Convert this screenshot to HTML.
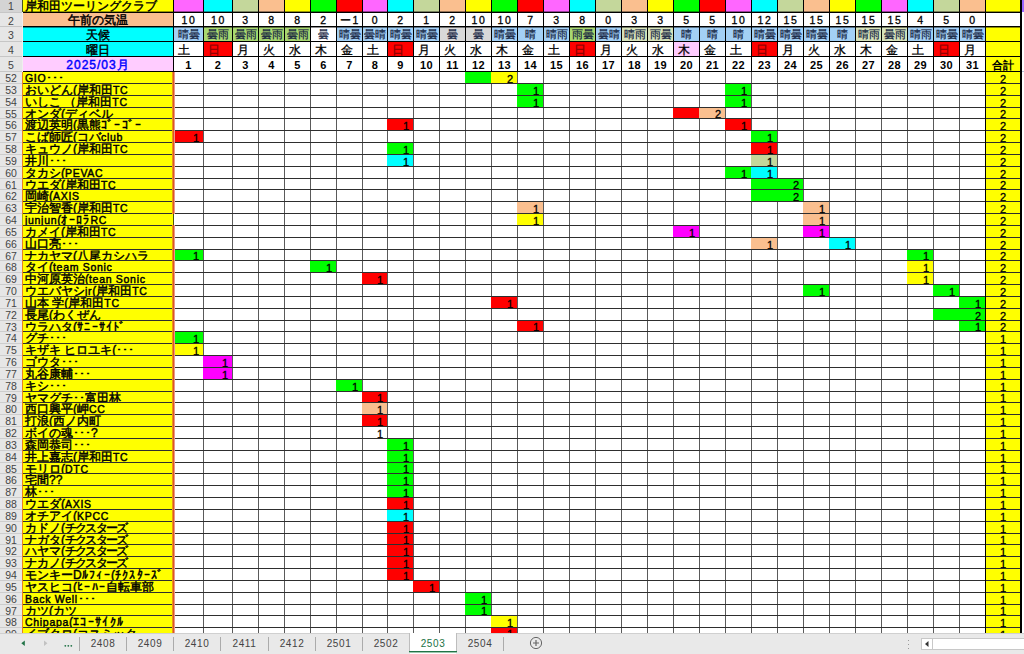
<!DOCTYPE html>
<html lang="ja"><head><meta charset="utf-8"><title>sheet</title><style>
*{margin:0;padding:0;box-sizing:border-box}
html,body{width:1024px;height:654px;overflow:hidden;background:#fff}
body{position:relative;font-family:"Liberation Sans",sans-serif;font-size:12px;color:#000}
div{position:absolute;overflow:hidden;white-space:nowrap}
.a{font-weight:normal;-webkit-text-stroke:.45px;font-size:12px;padding-left:2px}
.nm{line-height:13px}
.l{font-size:10.5px;letter-spacing:.7px}
.k{letter-spacing:1.3px}
.c{letter-spacing:-1.8px}
.h1{line-height:12px}
.hc{text-align:center;padding-left:0;line-height:16px}
.h2{line-height:14px}
.bl{color:#0000ff;letter-spacing:1px}
.t{text-align:center;font-size:11px;line-height:14px;-webkit-text-stroke:.3px #000}
.tp{font-size:10.5px;letter-spacing:1.6px;line-height:15px;padding-left:1px}
.we{font-size:11px;line-height:15px;color:#14233f;-webkit-text-stroke:.2px #14233f}
.wd{font-size:12px;line-height:16px;text-align:left;padding-left:4px}
.rd{color:#8a0000;-webkit-text-stroke:.3px #8a0000}
.dn{-webkit-text-stroke:0;font-weight:bold;font-size:11px;line-height:17px;letter-spacing:.5px}
.nu{text-align:right;padding-right:4px;font-size:11px;line-height:14px}
.tt{font-size:11px;line-height:14px}
.rh{text-align:center;font-size:10.5px;color:#444;line-height:13px}
.tab{text-align:center;font-size:10px;letter-spacing:.6px;color:#444;line-height:22px}
.act{color:#217346}
</style></head><body>
<div id="sheet" style="left:0;top:0;width:1024px;height:633px;background:#fff">
<div style="left:0px;top:0px;width:22px;height:633px;background:#e6e6e6;"></div>
<div style="left:0px;top:0px;width:22px;height:12px;background:#d4d4d4;"></div>
<div style="left:174px;top:0px;width:29px;height:12px;background:#ff66ff;"></div>
<div style="left:204px;top:0px;width:28px;height:12px;background:#00ffff;"></div>
<div style="left:233px;top:0px;width:25px;height:12px;background:#c4d79b;"></div>
<div style="left:259px;top:0px;width:25px;height:12px;background:#fabf8f;"></div>
<div style="left:285px;top:0px;width:25px;height:12px;background:#ffff00;"></div>
<div style="left:311px;top:0px;width:25px;height:12px;background:#00ff00;"></div>
<div style="left:337px;top:0px;width:25px;height:12px;background:#ff0000;"></div>
<div style="left:363px;top:0px;width:24px;height:12px;background:#ff66ff;"></div>
<div style="left:388px;top:0px;width:25px;height:12px;background:#00ffff;"></div>
<div style="left:414px;top:0px;width:25px;height:12px;background:#c4d79b;"></div>
<div style="left:440px;top:0px;width:25px;height:12px;background:#fabf8f;"></div>
<div style="left:466px;top:0px;width:25px;height:12px;background:#ffff00;"></div>
<div style="left:492px;top:0px;width:25px;height:12px;background:#00ff00;"></div>
<div style="left:518px;top:0px;width:25px;height:12px;background:#ff0000;"></div>
<div style="left:544px;top:0px;width:25px;height:12px;background:#ff66ff;"></div>
<div style="left:570px;top:0px;width:25px;height:12px;background:#00ffff;"></div>
<div style="left:596px;top:0px;width:25px;height:12px;background:#c4d79b;"></div>
<div style="left:622px;top:0px;width:25px;height:12px;background:#fabf8f;"></div>
<div style="left:648px;top:0px;width:25px;height:12px;background:#ffff00;"></div>
<div style="left:674px;top:0px;width:25px;height:12px;background:#00ff00;"></div>
<div style="left:700px;top:0px;width:25px;height:12px;background:#ff0000;"></div>
<div style="left:726px;top:0px;width:25px;height:12px;background:#ff66ff;"></div>
<div style="left:752px;top:0px;width:25px;height:12px;background:#00ffff;"></div>
<div style="left:778px;top:0px;width:25px;height:12px;background:#c4d79b;"></div>
<div style="left:804px;top:0px;width:25px;height:12px;background:#fabf8f;"></div>
<div style="left:830px;top:0px;width:25px;height:12px;background:#ffff00;"></div>
<div style="left:856px;top:0px;width:25px;height:12px;background:#00ff00;"></div>
<div style="left:882px;top:0px;width:25px;height:12px;background:#ff66ff;"></div>
<div style="left:908px;top:0px;width:25px;height:12px;background:#00ffff;"></div>
<div style="left:934px;top:0px;width:25px;height:12px;background:#c4d79b;"></div>
<div style="left:960px;top:0px;width:25px;height:12px;background:#fabf8f;"></div>
<div style="left:986px;top:0px;width:34px;height:12px;background:#ffff00;"></div>
<div style="left:1022px;top:0px;width:2px;height:12px;background:#9966ff;"></div>
<div class="a h1" style="left:23px;top:0px;width:150px;height:12px;background:#ffff00;">岸和田ツーリングクラブ</div>
<div class="a hc h2" style="left:23px;top:13px;width:150px;height:13px;background:#fabf8f;">午前の気温</div>
<div class="a hc" style="left:23px;top:27px;width:150px;height:14px;background:#00ffff;">天候</div>
<div class="a hc" style="left:23px;top:42px;width:150px;height:14px;background:#00ffff;">曜日</div>
<div class="a hc bl" style="left:23px;top:57px;width:150px;height:14px;background:#ffccff;">2025/03月</div>
<div class="t tp" style="left:174px;top:13px;width:29px;height:13px;">10</div>
<div class="t we" style="left:174px;top:27px;width:29px;height:14px;background:#a3d0f5;">晴曇</div>
<div class="t wd" style="left:174px;top:42px;width:29px;height:14px;">土</div>
<div class="t dn" style="left:174px;top:57px;width:29px;height:14px;">1</div>
<div class="t tp" style="left:204px;top:13px;width:28px;height:13px;">10</div>
<div class="t we" style="left:204px;top:27px;width:28px;height:14px;background:#a8d870;">曇雨</div>
<div class="t wd rd" style="left:204px;top:42px;width:28px;height:14px;background:#ff0000;">日</div>
<div class="t dn" style="left:204px;top:57px;width:28px;height:14px;">2</div>
<div class="t tp" style="left:233px;top:13px;width:25px;height:13px;">3</div>
<div class="t we" style="left:233px;top:27px;width:25px;height:14px;background:#a8d870;">曇雨</div>
<div class="t wd" style="left:233px;top:42px;width:25px;height:14px;">月</div>
<div class="t dn" style="left:233px;top:57px;width:25px;height:14px;">3</div>
<div class="t tp" style="left:259px;top:13px;width:25px;height:13px;">8</div>
<div class="t we" style="left:259px;top:27px;width:25px;height:14px;background:#a8d870;">曇雨</div>
<div class="t wd" style="left:259px;top:42px;width:25px;height:14px;">火</div>
<div class="t dn" style="left:259px;top:57px;width:25px;height:14px;">4</div>
<div class="t tp" style="left:285px;top:13px;width:25px;height:13px;">8</div>
<div class="t we" style="left:285px;top:27px;width:25px;height:14px;background:#a8d870;">曇雨</div>
<div class="t wd" style="left:285px;top:42px;width:25px;height:14px;">水</div>
<div class="t dn" style="left:285px;top:57px;width:25px;height:14px;">5</div>
<div class="t tp" style="left:311px;top:13px;width:25px;height:13px;">2</div>
<div class="t we" style="left:311px;top:27px;width:25px;height:14px;background:#ffffff;">曇</div>
<div class="t wd" style="left:311px;top:42px;width:25px;height:14px;">木</div>
<div class="t dn" style="left:311px;top:57px;width:25px;height:14px;">6</div>
<div class="t tp" style="left:337px;top:13px;width:25px;height:13px;">ー1</div>
<div class="t we" style="left:337px;top:27px;width:25px;height:14px;background:#a3d0f5;">晴曇</div>
<div class="t wd" style="left:337px;top:42px;width:25px;height:14px;">金</div>
<div class="t dn" style="left:337px;top:57px;width:25px;height:14px;">7</div>
<div class="t tp" style="left:363px;top:13px;width:24px;height:13px;">0</div>
<div class="t we" style="left:363px;top:27px;width:24px;height:14px;background:#a3d0f5;">曇晴</div>
<div class="t wd" style="left:363px;top:42px;width:24px;height:14px;">土</div>
<div class="t dn" style="left:363px;top:57px;width:24px;height:14px;">8</div>
<div class="t tp" style="left:388px;top:13px;width:25px;height:13px;">2</div>
<div class="t we" style="left:388px;top:27px;width:25px;height:14px;background:#a3d0f5;">晴曇</div>
<div class="t wd rd" style="left:388px;top:42px;width:25px;height:14px;background:#ff0000;">日</div>
<div class="t dn" style="left:388px;top:57px;width:25px;height:14px;">9</div>
<div class="t tp" style="left:414px;top:13px;width:25px;height:13px;">1</div>
<div class="t we" style="left:414px;top:27px;width:25px;height:14px;background:#a3d0f5;">晴曇</div>
<div class="t wd" style="left:414px;top:42px;width:25px;height:14px;">月</div>
<div class="t dn" style="left:414px;top:57px;width:25px;height:14px;">10</div>
<div class="t tp" style="left:440px;top:13px;width:25px;height:13px;">2</div>
<div class="t we" style="left:440px;top:27px;width:25px;height:14px;background:#d9d9d9;">曇</div>
<div class="t wd" style="left:440px;top:42px;width:25px;height:14px;">火</div>
<div class="t dn" style="left:440px;top:57px;width:25px;height:14px;">11</div>
<div class="t tp" style="left:466px;top:13px;width:25px;height:13px;">10</div>
<div class="t we" style="left:466px;top:27px;width:25px;height:14px;background:#d9d9d9;">曇</div>
<div class="t wd" style="left:466px;top:42px;width:25px;height:14px;">水</div>
<div class="t dn" style="left:466px;top:57px;width:25px;height:14px;">12</div>
<div class="t tp" style="left:492px;top:13px;width:25px;height:13px;">10</div>
<div class="t we" style="left:492px;top:27px;width:25px;height:14px;background:#a3d0f5;">晴曇</div>
<div class="t wd" style="left:492px;top:42px;width:25px;height:14px;">木</div>
<div class="t dn" style="left:492px;top:57px;width:25px;height:14px;">13</div>
<div class="t tp" style="left:518px;top:13px;width:25px;height:13px;">7</div>
<div class="t we" style="left:518px;top:27px;width:25px;height:14px;background:#a3d0f5;">晴</div>
<div class="t wd" style="left:518px;top:42px;width:25px;height:14px;">金</div>
<div class="t dn" style="left:518px;top:57px;width:25px;height:14px;">14</div>
<div class="t tp" style="left:544px;top:13px;width:25px;height:13px;">3</div>
<div class="t we" style="left:544px;top:27px;width:25px;height:14px;background:#a3d0f5;">晴雨</div>
<div class="t wd" style="left:544px;top:42px;width:25px;height:14px;">土</div>
<div class="t dn" style="left:544px;top:57px;width:25px;height:14px;">15</div>
<div class="t tp" style="left:570px;top:13px;width:25px;height:13px;">8</div>
<div class="t we" style="left:570px;top:27px;width:25px;height:14px;background:#a8d870;">雨曇</div>
<div class="t wd rd" style="left:570px;top:42px;width:25px;height:14px;background:#ff0000;">日</div>
<div class="t dn" style="left:570px;top:57px;width:25px;height:14px;">16</div>
<div class="t tp" style="left:596px;top:13px;width:25px;height:13px;">0</div>
<div class="t we" style="left:596px;top:27px;width:25px;height:14px;background:#a3d0f5;">曇晴</div>
<div class="t wd" style="left:596px;top:42px;width:25px;height:14px;">月</div>
<div class="t dn" style="left:596px;top:57px;width:25px;height:14px;">17</div>
<div class="t tp" style="left:622px;top:13px;width:25px;height:13px;">3</div>
<div class="t we" style="left:622px;top:27px;width:25px;height:14px;background:#d7e3bb;">晴雨</div>
<div class="t wd" style="left:622px;top:42px;width:25px;height:14px;">火</div>
<div class="t dn" style="left:622px;top:57px;width:25px;height:14px;">18</div>
<div class="t tp" style="left:648px;top:13px;width:25px;height:13px;">3</div>
<div class="t we" style="left:648px;top:27px;width:25px;height:14px;background:#d7e3bb;">雨曇</div>
<div class="t wd" style="left:648px;top:42px;width:25px;height:14px;">水</div>
<div class="t dn" style="left:648px;top:57px;width:25px;height:14px;">19</div>
<div class="t tp" style="left:674px;top:13px;width:25px;height:13px;">5</div>
<div class="t we" style="left:674px;top:27px;width:25px;height:14px;background:#a3d0f5;">晴</div>
<div class="t wd" style="left:674px;top:42px;width:25px;height:14px;background:#ffccff;">木</div>
<div class="t dn" style="left:674px;top:57px;width:25px;height:14px;">20</div>
<div class="t tp" style="left:700px;top:13px;width:25px;height:13px;">5</div>
<div class="t we" style="left:700px;top:27px;width:25px;height:14px;background:#a3d0f5;">晴</div>
<div class="t wd" style="left:700px;top:42px;width:25px;height:14px;">金</div>
<div class="t dn" style="left:700px;top:57px;width:25px;height:14px;">21</div>
<div class="t tp" style="left:726px;top:13px;width:25px;height:13px;">10</div>
<div class="t we" style="left:726px;top:27px;width:25px;height:14px;background:#a3d0f5;">晴</div>
<div class="t wd" style="left:726px;top:42px;width:25px;height:14px;">土</div>
<div class="t dn" style="left:726px;top:57px;width:25px;height:14px;">22</div>
<div class="t tp" style="left:752px;top:13px;width:25px;height:13px;">12</div>
<div class="t we" style="left:752px;top:27px;width:25px;height:14px;background:#a3d0f5;">晴曇</div>
<div class="t wd rd" style="left:752px;top:42px;width:25px;height:14px;background:#ff0000;">日</div>
<div class="t dn" style="left:752px;top:57px;width:25px;height:14px;">23</div>
<div class="t tp" style="left:778px;top:13px;width:25px;height:13px;">15</div>
<div class="t we" style="left:778px;top:27px;width:25px;height:14px;background:#a3d0f5;">晴曇</div>
<div class="t wd" style="left:778px;top:42px;width:25px;height:14px;">月</div>
<div class="t dn" style="left:778px;top:57px;width:25px;height:14px;">24</div>
<div class="t tp" style="left:804px;top:13px;width:25px;height:13px;">15</div>
<div class="t we" style="left:804px;top:27px;width:25px;height:14px;background:#a3d0f5;">晴曇</div>
<div class="t wd" style="left:804px;top:42px;width:25px;height:14px;">火</div>
<div class="t dn" style="left:804px;top:57px;width:25px;height:14px;">25</div>
<div class="t tp" style="left:830px;top:13px;width:25px;height:13px;">15</div>
<div class="t we" style="left:830px;top:27px;width:25px;height:14px;background:#a3d0f5;">晴</div>
<div class="t wd" style="left:830px;top:42px;width:25px;height:14px;">水</div>
<div class="t dn" style="left:830px;top:57px;width:25px;height:14px;">26</div>
<div class="t tp" style="left:856px;top:13px;width:25px;height:13px;">15</div>
<div class="t we" style="left:856px;top:27px;width:25px;height:14px;background:#d7e3bb;">晴雨</div>
<div class="t wd" style="left:856px;top:42px;width:25px;height:14px;">木</div>
<div class="t dn" style="left:856px;top:57px;width:25px;height:14px;">27</div>
<div class="t tp" style="left:882px;top:13px;width:25px;height:13px;">15</div>
<div class="t we" style="left:882px;top:27px;width:25px;height:14px;background:#d7e3bb;">曇雨</div>
<div class="t wd" style="left:882px;top:42px;width:25px;height:14px;">金</div>
<div class="t dn" style="left:882px;top:57px;width:25px;height:14px;">28</div>
<div class="t tp" style="left:908px;top:13px;width:25px;height:13px;">4</div>
<div class="t we" style="left:908px;top:27px;width:25px;height:14px;background:#a3d0f5;">晴雨</div>
<div class="t wd" style="left:908px;top:42px;width:25px;height:14px;">土</div>
<div class="t dn" style="left:908px;top:57px;width:25px;height:14px;">29</div>
<div class="t tp" style="left:934px;top:13px;width:25px;height:13px;">5</div>
<div class="t we" style="left:934px;top:27px;width:25px;height:14px;background:#a3d0f5;">晴曇</div>
<div class="t wd rd" style="left:934px;top:42px;width:25px;height:14px;background:#ff0000;">日</div>
<div class="t dn" style="left:934px;top:57px;width:25px;height:14px;">30</div>
<div class="t tp" style="left:960px;top:13px;width:25px;height:13px;">0</div>
<div class="t we" style="left:960px;top:27px;width:25px;height:14px;background:#a3d0f5;">晴曇</div>
<div class="t wd" style="left:960px;top:42px;width:25px;height:14px;">月</div>
<div class="t dn" style="left:960px;top:57px;width:25px;height:14px;">31</div>
<div style="left:986px;top:27px;width:34px;height:29px;background:#ffff00;"></div>
<div class="t dn" style="left:986px;top:57px;width:34px;height:14px;background:#ffff00;">合計</div>
<div class="a nm" style="left:23px;top:72px;width:150px;height:11px;background:#ffff00;"><span class="l">GIO</span>･･･</div>
<div class="t tt" style="left:986px;top:72px;width:34px;height:11px;background:#ffff00;">2</div>
<div class="a nm" style="left:23px;top:84px;width:150px;height:11px;background:#ffff00;">おいどん(岸和田<span class="l">TC</span></div>
<div class="t tt" style="left:986px;top:84px;width:34px;height:11px;background:#ffff00;">2</div>
<div class="a nm" style="left:23px;top:96px;width:150px;height:11px;background:#ffff00;">いしこ （岸和田<span class="l">TC</span></div>
<div class="t tt" style="left:986px;top:96px;width:34px;height:11px;background:#ffff00;">2</div>
<div class="a nm" style="left:23px;top:108px;width:150px;height:10px;background:#ffff00;">オンダ(ディベル</div>
<div class="t tt" style="left:986px;top:108px;width:34px;height:10px;background:#ffff00;line-height:13px;">2</div>
<div class="a nm" style="left:23px;top:119px;width:150px;height:11px;background:#ffff00;">渡辺英明(黒熊<span class="k">ｺﾞｰｺﾞｰ</span></div>
<div class="t tt" style="left:986px;top:119px;width:34px;height:11px;background:#ffff00;">2</div>
<div class="a nm" style="left:23px;top:131px;width:150px;height:11px;background:#ffff00;">こば師匠(コバ<span class="l">club</span></div>
<div class="t tt" style="left:986px;top:131px;width:34px;height:11px;background:#ffff00;">2</div>
<div class="a nm" style="left:23px;top:143px;width:150px;height:11px;background:#ffff00;">キュウノ(岸和田<span class="l">TC</span></div>
<div class="t tt" style="left:986px;top:143px;width:34px;height:11px;background:#ffff00;">2</div>
<div class="a nm" style="left:23px;top:155px;width:150px;height:11px;background:#ffff00;">井川･･･</div>
<div class="t tt" style="left:986px;top:155px;width:34px;height:11px;background:#ffff00;">2</div>
<div class="a nm" style="left:23px;top:167px;width:150px;height:11px;background:#ffff00;">タカシ(<span class="l">PEVAC</span></div>
<div class="t tt" style="left:986px;top:167px;width:34px;height:11px;background:#ffff00;">2</div>
<div class="a nm" style="left:23px;top:179px;width:150px;height:10px;background:#ffff00;">ウエダ(岸和田<span class="l">TC</span></div>
<div class="t tt" style="left:986px;top:179px;width:34px;height:10px;background:#ffff00;line-height:13px;">2</div>
<div class="a nm" style="left:23px;top:190px;width:150px;height:11px;background:#ffff00;">岡崎(<span class="l">AXIS</span></div>
<div class="t tt" style="left:986px;top:190px;width:34px;height:11px;background:#ffff00;">2</div>
<div class="a nm" style="left:23px;top:202px;width:150px;height:11px;background:#ffff00;">宇治智香(岸和田<span class="l">TC</span></div>
<div class="t tt" style="left:986px;top:202px;width:34px;height:11px;background:#ffff00;">2</div>
<div class="a nm" style="left:23px;top:214px;width:150px;height:11px;background:#ffff00;"><span class="l">junjun</span>(<span class="k">ｵｰﾛﾗ</span><span class="l">RC</span></div>
<div class="t tt" style="left:986px;top:214px;width:34px;height:11px;background:#ffff00;">2</div>
<div class="a nm" style="left:23px;top:226px;width:150px;height:11px;background:#ffff00;">カメイ(岸和田<span class="l">TC</span></div>
<div class="t tt" style="left:986px;top:226px;width:34px;height:11px;background:#ffff00;">2</div>
<div class="a nm" style="left:23px;top:238px;width:150px;height:11px;background:#ffff00;">山口亮･･･</div>
<div class="t tt" style="left:986px;top:238px;width:34px;height:11px;background:#ffff00;">2</div>
<div class="a nm" style="left:23px;top:250px;width:150px;height:10px;background:#ffff00;">ナカヤマ(八尾カシハラ</div>
<div class="t tt" style="left:986px;top:250px;width:34px;height:10px;background:#ffff00;line-height:13px;">2</div>
<div class="a nm" style="left:23px;top:261px;width:150px;height:11px;background:#ffff00;">タイ(<span class="l">team Sonic</span></div>
<div class="t tt" style="left:986px;top:261px;width:34px;height:11px;background:#ffff00;">2</div>
<div class="a nm" style="left:23px;top:273px;width:150px;height:11px;background:#ffff00;">中河原英治(<span class="l">tean Sonic</span></div>
<div class="t tt" style="left:986px;top:273px;width:34px;height:11px;background:#ffff00;">2</div>
<div class="a nm" style="left:23px;top:285px;width:150px;height:11px;background:#ffff00;">ウエバヤシ<span class="l">jr</span>(岸和田<span class="l">TC</span></div>
<div class="t tt" style="left:986px;top:285px;width:34px;height:11px;background:#ffff00;">2</div>
<div class="a nm" style="left:23px;top:297px;width:150px;height:11px;background:#ffff00;">山本 学(岸和田<span class="l">TC</span></div>
<div class="t tt" style="left:986px;top:297px;width:34px;height:11px;background:#ffff00;">2</div>
<div class="a nm" style="left:23px;top:309px;width:150px;height:11px;background:#ffff00;">長尾(わくぜん</div>
<div class="t tt" style="left:986px;top:309px;width:34px;height:11px;background:#ffff00;">2</div>
<div class="a nm" style="left:23px;top:321px;width:150px;height:10px;background:#ffff00;">ウラハタ(<span class="k">ｻﾆｰｻｲﾄﾞ</span></div>
<div class="t tt" style="left:986px;top:321px;width:34px;height:10px;background:#ffff00;line-height:13px;">2</div>
<div class="a nm" style="left:23px;top:332px;width:150px;height:11px;background:#ffff00;">グチ･･･</div>
<div class="t tt" style="left:986px;top:332px;width:34px;height:11px;background:#ffff00;">1</div>
<div class="a nm" style="left:23px;top:344px;width:150px;height:11px;background:#ffff00;">キザキ ヒロユキ(･･･</div>
<div class="t tt" style="left:986px;top:344px;width:34px;height:11px;background:#ffff00;">1</div>
<div class="a nm" style="left:23px;top:356px;width:150px;height:11px;background:#ffff00;">ゴウタ･･･</div>
<div class="t tt" style="left:986px;top:356px;width:34px;height:11px;background:#ffff00;">1</div>
<div class="a nm" style="left:23px;top:368px;width:150px;height:11px;background:#ffff00;">丸谷康輔･･･</div>
<div class="t tt" style="left:986px;top:368px;width:34px;height:11px;background:#ffff00;">1</div>
<div class="a nm" style="left:23px;top:380px;width:150px;height:11px;background:#ffff00;">キシ･･･</div>
<div class="t tt" style="left:986px;top:380px;width:34px;height:11px;background:#ffff00;">1</div>
<div class="a nm" style="left:23px;top:392px;width:150px;height:10px;background:#ffff00;">ヤマグチ･･富田林</div>
<div class="t tt" style="left:986px;top:392px;width:34px;height:10px;background:#ffff00;line-height:13px;">1</div>
<div class="a nm" style="left:23px;top:403px;width:150px;height:11px;background:#ffff00;">西口興平(岬<span class="l">CC</span></div>
<div class="t tt" style="left:986px;top:403px;width:34px;height:11px;background:#ffff00;">1</div>
<div class="a nm" style="left:23px;top:415px;width:150px;height:11px;background:#ffff00;">打浪(西ノ内町</div>
<div class="t tt" style="left:986px;top:415px;width:34px;height:11px;background:#ffff00;">1</div>
<div class="a nm" style="left:23px;top:427px;width:150px;height:11px;background:#ffff00;">ボイの魂･･･?</div>
<div class="t tt" style="left:986px;top:427px;width:34px;height:11px;background:#ffff00;">1</div>
<div class="a nm" style="left:23px;top:439px;width:150px;height:11px;background:#ffff00;">森岡恭司･･･</div>
<div class="t tt" style="left:986px;top:439px;width:34px;height:11px;background:#ffff00;">1</div>
<div class="a nm" style="left:23px;top:451px;width:150px;height:11px;background:#ffff00;">井上嘉志(岸和田<span class="l">TC</span></div>
<div class="t tt" style="left:986px;top:451px;width:34px;height:11px;background:#ffff00;">1</div>
<div class="a nm" style="left:23px;top:463px;width:150px;height:10px;background:#ffff00;">モリロ(<span class="l">DTC</span></div>
<div class="t tt" style="left:986px;top:463px;width:34px;height:10px;background:#ffff00;line-height:13px;">1</div>
<div class="a nm" style="left:23px;top:474px;width:150px;height:11px;background:#ffff00;">宅間??</div>
<div class="t tt" style="left:986px;top:474px;width:34px;height:11px;background:#ffff00;">1</div>
<div class="a nm" style="left:23px;top:486px;width:150px;height:11px;background:#ffff00;">林･･･</div>
<div class="t tt" style="left:986px;top:486px;width:34px;height:11px;background:#ffff00;">1</div>
<div class="a nm" style="left:23px;top:498px;width:150px;height:11px;background:#ffff00;">ウエダ(<span class="l">AXIS</span></div>
<div class="t tt" style="left:986px;top:498px;width:34px;height:11px;background:#ffff00;">1</div>
<div class="a nm" style="left:23px;top:510px;width:150px;height:11px;background:#ffff00;">オチアイ(<span class="l">KPCC</span></div>
<div class="t tt" style="left:986px;top:510px;width:34px;height:11px;background:#ffff00;">1</div>
<div class="a nm" style="left:23px;top:522px;width:150px;height:11px;background:#ffff00;">カドノ(<span class="c">チクスターズ</span></div>
<div class="t tt" style="left:986px;top:522px;width:34px;height:11px;background:#ffff00;">1</div>
<div class="a nm" style="left:23px;top:534px;width:150px;height:10px;background:#ffff00;">ナガタ(<span class="c">チクスターズ</span></div>
<div class="t tt" style="left:986px;top:534px;width:34px;height:10px;background:#ffff00;line-height:13px;">1</div>
<div class="a nm" style="left:23px;top:545px;width:150px;height:11px;background:#ffff00;">ハヤマ(<span class="c">チクスターズ</span></div>
<div class="t tt" style="left:986px;top:545px;width:34px;height:11px;background:#ffff00;">1</div>
<div class="a nm" style="left:23px;top:557px;width:150px;height:11px;background:#ffff00;">ナカノ(<span class="c">チクスターズ</span></div>
<div class="t tt" style="left:986px;top:557px;width:34px;height:11px;background:#ffff00;">1</div>
<div class="a nm" style="left:23px;top:569px;width:150px;height:11px;background:#ffff00;">モンキーD<span class="k">ﾙﾌｨｰ</span>(<span class="k">ﾁｸｽﾀｰｽﾞ</span></div>
<div class="t tt" style="left:986px;top:569px;width:34px;height:11px;background:#ffff00;">1</div>
<div class="a nm" style="left:23px;top:581px;width:150px;height:11px;background:#ffff00;">ヤスヒコ(<span class="k">ﾋｰﾊｰ</span>自転車部</div>
<div class="t tt" style="left:986px;top:581px;width:34px;height:11px;background:#ffff00;">1</div>
<div class="a nm" style="left:23px;top:593px;width:150px;height:11px;background:#ffff00;"><span class="l">Back Well</span>･･･</div>
<div class="t tt" style="left:986px;top:593px;width:34px;height:11px;background:#ffff00;">1</div>
<div class="a nm" style="left:23px;top:605px;width:150px;height:10px;background:#ffff00;">カツ(カツ</div>
<div class="t tt" style="left:986px;top:605px;width:34px;height:10px;background:#ffff00;line-height:13px;">1</div>
<div class="a nm" style="left:23px;top:616px;width:150px;height:11px;background:#ffff00;"><span class="l">Chipapa</span>(<span class="k">ｴｺｰｻｲｸﾙ</span></div>
<div class="t tt" style="left:986px;top:616px;width:34px;height:11px;background:#ffff00;">1</div>
<div class="a nm" style="left:23px;top:628px;width:150px;height:11px;background:#ffff00;">イブクロ(コスミック</div>
<div class="t tt" style="left:986px;top:628px;width:34px;height:11px;background:#ffff00;">1</div>
<div style="left:173px;top:0px;width:1px;height:72px;background:#000;"></div>
<div style="left:203px;top:0px;width:1px;height:72px;background:#000;"></div>
<div style="left:203px;top:72px;width:1px;height:561px;background:#5a5a5a;"></div>
<div style="left:232px;top:0px;width:1px;height:72px;background:#000;"></div>
<div style="left:232px;top:72px;width:1px;height:561px;background:#5a5a5a;"></div>
<div style="left:258px;top:0px;width:1px;height:72px;background:#000;"></div>
<div style="left:258px;top:72px;width:1px;height:561px;background:#5a5a5a;"></div>
<div style="left:284px;top:0px;width:1px;height:72px;background:#000;"></div>
<div style="left:284px;top:72px;width:1px;height:561px;background:#5a5a5a;"></div>
<div style="left:310px;top:0px;width:1px;height:72px;background:#000;"></div>
<div style="left:310px;top:72px;width:1px;height:561px;background:#5a5a5a;"></div>
<div style="left:336px;top:0px;width:1px;height:72px;background:#000;"></div>
<div style="left:336px;top:72px;width:1px;height:561px;background:#5a5a5a;"></div>
<div style="left:362px;top:0px;width:1px;height:72px;background:#000;"></div>
<div style="left:362px;top:72px;width:1px;height:561px;background:#5a5a5a;"></div>
<div style="left:387px;top:0px;width:1px;height:72px;background:#000;"></div>
<div style="left:387px;top:72px;width:1px;height:561px;background:#5a5a5a;"></div>
<div style="left:413px;top:0px;width:1px;height:72px;background:#000;"></div>
<div style="left:413px;top:72px;width:1px;height:561px;background:#5a5a5a;"></div>
<div style="left:439px;top:0px;width:1px;height:72px;background:#000;"></div>
<div style="left:439px;top:72px;width:1px;height:561px;background:#5a5a5a;"></div>
<div style="left:465px;top:0px;width:1px;height:72px;background:#000;"></div>
<div style="left:465px;top:72px;width:1px;height:561px;background:#5a5a5a;"></div>
<div style="left:491px;top:0px;width:1px;height:72px;background:#000;"></div>
<div style="left:491px;top:72px;width:1px;height:561px;background:#5a5a5a;"></div>
<div style="left:517px;top:0px;width:1px;height:72px;background:#000;"></div>
<div style="left:517px;top:72px;width:1px;height:561px;background:#5a5a5a;"></div>
<div style="left:543px;top:0px;width:1px;height:72px;background:#000;"></div>
<div style="left:543px;top:72px;width:1px;height:561px;background:#5a5a5a;"></div>
<div style="left:569px;top:0px;width:1px;height:72px;background:#000;"></div>
<div style="left:569px;top:72px;width:1px;height:561px;background:#5a5a5a;"></div>
<div style="left:595px;top:0px;width:1px;height:72px;background:#000;"></div>
<div style="left:595px;top:72px;width:1px;height:561px;background:#5a5a5a;"></div>
<div style="left:621px;top:0px;width:1px;height:72px;background:#000;"></div>
<div style="left:621px;top:72px;width:1px;height:561px;background:#5a5a5a;"></div>
<div style="left:647px;top:0px;width:1px;height:72px;background:#000;"></div>
<div style="left:647px;top:72px;width:1px;height:561px;background:#5a5a5a;"></div>
<div style="left:673px;top:0px;width:1px;height:72px;background:#000;"></div>
<div style="left:673px;top:72px;width:1px;height:561px;background:#5a5a5a;"></div>
<div style="left:699px;top:0px;width:1px;height:72px;background:#000;"></div>
<div style="left:699px;top:72px;width:1px;height:561px;background:#5a5a5a;"></div>
<div style="left:725px;top:0px;width:1px;height:72px;background:#000;"></div>
<div style="left:725px;top:72px;width:1px;height:561px;background:#5a5a5a;"></div>
<div style="left:751px;top:0px;width:1px;height:72px;background:#000;"></div>
<div style="left:751px;top:72px;width:1px;height:561px;background:#5a5a5a;"></div>
<div style="left:777px;top:0px;width:1px;height:72px;background:#000;"></div>
<div style="left:777px;top:72px;width:1px;height:561px;background:#5a5a5a;"></div>
<div style="left:803px;top:0px;width:1px;height:72px;background:#000;"></div>
<div style="left:803px;top:72px;width:1px;height:561px;background:#5a5a5a;"></div>
<div style="left:829px;top:0px;width:1px;height:72px;background:#000;"></div>
<div style="left:829px;top:72px;width:1px;height:561px;background:#5a5a5a;"></div>
<div style="left:855px;top:0px;width:1px;height:72px;background:#000;"></div>
<div style="left:855px;top:72px;width:1px;height:561px;background:#5a5a5a;"></div>
<div style="left:881px;top:0px;width:1px;height:72px;background:#000;"></div>
<div style="left:881px;top:72px;width:1px;height:561px;background:#5a5a5a;"></div>
<div style="left:907px;top:0px;width:1px;height:72px;background:#000;"></div>
<div style="left:907px;top:72px;width:1px;height:561px;background:#5a5a5a;"></div>
<div style="left:933px;top:0px;width:1px;height:72px;background:#000;"></div>
<div style="left:933px;top:72px;width:1px;height:561px;background:#5a5a5a;"></div>
<div style="left:959px;top:0px;width:1px;height:72px;background:#000;"></div>
<div style="left:959px;top:72px;width:1px;height:561px;background:#5a5a5a;"></div>
<div style="left:985px;top:0px;width:1px;height:72px;background:#000;"></div>
<div style="left:985px;top:72px;width:1px;height:561px;background:#5a5a5a;"></div>
<div class="t nu" style="left:465px;top:72px;width:26px;height:11px;background:#00ff00;"></div>
<div class="t nu" style="left:491px;top:72px;width:26px;height:11px;background:#ffff00;">2</div>
<div class="t nu" style="left:517px;top:84px;width:26px;height:11px;background:#00ff00;">1</div>
<div class="t nu" style="left:725px;top:84px;width:26px;height:11px;background:#00ff00;">1</div>
<div class="t nu" style="left:517px;top:96px;width:26px;height:11px;background:#00ff00;">1</div>
<div class="t nu" style="left:725px;top:96px;width:26px;height:11px;background:#00ff00;">1</div>
<div class="t nu" style="left:673px;top:108px;width:26px;height:10px;background:#ff0000;line-height:13px;"></div>
<div class="t nu" style="left:699px;top:108px;width:26px;height:10px;background:#fabf8f;line-height:13px;">2</div>
<div class="t nu" style="left:387px;top:119px;width:26px;height:11px;background:#ff0000;">1</div>
<div class="t nu" style="left:725px;top:119px;width:26px;height:11px;background:#ff0000;">1</div>
<div class="t nu" style="left:174px;top:131px;width:29px;height:11px;background:#ff0000;">1</div>
<div class="t nu" style="left:751px;top:131px;width:26px;height:11px;background:#00ff00;">1</div>
<div class="t nu" style="left:387px;top:143px;width:26px;height:11px;background:#00ff00;">1</div>
<div class="t nu" style="left:751px;top:143px;width:26px;height:11px;background:#ff0000;">1</div>
<div class="t nu" style="left:387px;top:155px;width:26px;height:11px;background:#00ffff;">1</div>
<div class="t nu" style="left:751px;top:155px;width:26px;height:11px;background:#c4d79b;">1</div>
<div class="t nu" style="left:725px;top:167px;width:26px;height:11px;background:#00ff00;">1</div>
<div class="t nu" style="left:751px;top:167px;width:26px;height:11px;background:#00ffff;">1</div>
<div class="t nu" style="left:751px;top:179px;width:26px;height:10px;background:#00ff00;line-height:13px;"></div>
<div class="t nu" style="left:777px;top:179px;width:26px;height:10px;background:#00ff00;line-height:13px;">2</div>
<div class="t nu" style="left:751px;top:190px;width:26px;height:11px;background:#00ff00;"></div>
<div class="t nu" style="left:777px;top:190px;width:26px;height:11px;background:#00ff00;">2</div>
<div class="t nu" style="left:517px;top:202px;width:26px;height:11px;background:#fabf8f;">1</div>
<div class="t nu" style="left:803px;top:202px;width:26px;height:11px;background:#fabf8f;">1</div>
<div class="t nu" style="left:517px;top:214px;width:26px;height:11px;background:#ffff00;">1</div>
<div class="t nu" style="left:803px;top:214px;width:26px;height:11px;background:#fabf8f;">1</div>
<div class="t nu" style="left:673px;top:226px;width:26px;height:11px;background:#ff00ff;">1</div>
<div class="t nu" style="left:803px;top:226px;width:26px;height:11px;background:#ff00ff;">1</div>
<div class="t nu" style="left:751px;top:238px;width:26px;height:11px;background:#fabf8f;">1</div>
<div class="t nu" style="left:829px;top:238px;width:26px;height:11px;background:#00ffff;">1</div>
<div class="t nu" style="left:174px;top:250px;width:29px;height:10px;background:#00ff00;line-height:13px;">1</div>
<div class="t nu" style="left:907px;top:250px;width:26px;height:10px;background:#00ff00;line-height:13px;">1</div>
<div class="t nu" style="left:310px;top:261px;width:26px;height:11px;background:#00ff00;">1</div>
<div class="t nu" style="left:907px;top:261px;width:26px;height:11px;background:#ffff00;">1</div>
<div class="t nu" style="left:362px;top:273px;width:25px;height:11px;background:#ff0000;">1</div>
<div class="t nu" style="left:907px;top:273px;width:26px;height:11px;background:#ffff00;">1</div>
<div class="t nu" style="left:803px;top:285px;width:26px;height:11px;background:#00ff00;">1</div>
<div class="t nu" style="left:933px;top:285px;width:26px;height:11px;background:#00ff00;">1</div>
<div class="t nu" style="left:491px;top:297px;width:26px;height:11px;background:#ff0000;">1</div>
<div class="t nu" style="left:959px;top:297px;width:26px;height:11px;background:#00ff00;">1</div>
<div class="t nu" style="left:933px;top:309px;width:26px;height:11px;background:#00ff00;"></div>
<div class="t nu" style="left:959px;top:309px;width:26px;height:11px;background:#00ff00;">2</div>
<div class="t nu" style="left:517px;top:321px;width:26px;height:10px;background:#ff0000;line-height:13px;">1</div>
<div class="t nu" style="left:959px;top:321px;width:26px;height:10px;background:#00ff00;line-height:13px;">1</div>
<div class="t nu" style="left:174px;top:332px;width:29px;height:11px;background:#00ff00;">1</div>
<div class="t nu" style="left:174px;top:344px;width:29px;height:11px;background:#ffff00;">1</div>
<div class="t nu" style="left:203px;top:356px;width:29px;height:11px;background:#ff00ff;">1</div>
<div class="t nu" style="left:203px;top:368px;width:29px;height:11px;background:#ff00ff;">1</div>
<div class="t nu" style="left:336px;top:380px;width:26px;height:11px;background:#00ff00;">1</div>
<div class="t nu" style="left:362px;top:392px;width:25px;height:10px;background:#ff0000;line-height:13px;">1</div>
<div class="t nu" style="left:362px;top:403px;width:25px;height:11px;background:#fabf8f;">1</div>
<div class="t nu" style="left:362px;top:415px;width:25px;height:11px;background:#ff0000;">1</div>
<div class="t nu" style="left:362px;top:427px;width:25px;height:11px;">1</div>
<div class="t nu" style="left:387px;top:439px;width:26px;height:11px;background:#00ff00;">1</div>
<div class="t nu" style="left:387px;top:451px;width:26px;height:11px;background:#00ff00;">1</div>
<div class="t nu" style="left:387px;top:463px;width:26px;height:10px;background:#00ff00;line-height:13px;">1</div>
<div class="t nu" style="left:387px;top:474px;width:26px;height:11px;background:#00ff00;">1</div>
<div class="t nu" style="left:387px;top:486px;width:26px;height:11px;background:#00ff00;">1</div>
<div class="t nu" style="left:387px;top:498px;width:26px;height:11px;background:#ff0000;">1</div>
<div class="t nu" style="left:387px;top:510px;width:26px;height:11px;background:#00ffff;">1</div>
<div class="t nu" style="left:387px;top:522px;width:26px;height:11px;background:#ff0000;">1</div>
<div class="t nu" style="left:387px;top:534px;width:26px;height:10px;background:#ff0000;line-height:13px;">1</div>
<div class="t nu" style="left:387px;top:545px;width:26px;height:11px;background:#ff0000;">1</div>
<div class="t nu" style="left:387px;top:557px;width:26px;height:11px;background:#ff0000;">1</div>
<div class="t nu" style="left:387px;top:569px;width:26px;height:11px;background:#ff0000;">1</div>
<div class="t nu" style="left:413px;top:581px;width:26px;height:11px;background:#ff0000;">1</div>
<div class="t nu" style="left:465px;top:593px;width:26px;height:11px;background:#00ff00;">1</div>
<div class="t nu" style="left:465px;top:605px;width:26px;height:10px;background:#00ff00;line-height:13px;">1</div>
<div class="t nu" style="left:491px;top:616px;width:26px;height:11px;background:#ffff00;">1</div>
<div class="t nu" style="left:491px;top:628px;width:26px;height:5px;background:#ff0000;line-height:13px;">1</div>
<div style="left:22px;top:12px;width:999px;height:1px;background:#000;"></div>
<div style="left:22px;top:26px;width:999px;height:1px;background:#000;"></div>
<div style="left:22px;top:41px;width:999px;height:1px;background:#000;"></div>
<div style="left:22px;top:56px;width:999px;height:1px;background:#000;"></div>
<div style="left:22px;top:71px;width:999px;height:1px;background:#000;"></div>
<div style="left:1022px;top:71px;width:2px;height:1px;background:#b8c0d8;"></div>
<div style="left:23px;top:11px;width:998px;height:1px;background:rgba(0,0,0,.4);"></div>
<div style="left:23px;top:27px;width:998px;height:1px;background:rgba(0,0,0,.45);"></div>
<div style="left:22px;top:83px;width:999px;height:1px;background:#2e2e2e;"></div>
<div style="left:22px;top:95px;width:999px;height:1px;background:#2e2e2e;"></div>
<div style="left:22px;top:107px;width:999px;height:1px;background:#2e2e2e;"></div>
<div style="left:22px;top:118px;width:999px;height:1px;background:#2e2e2e;"></div>
<div style="left:22px;top:130px;width:999px;height:1px;background:#2e2e2e;"></div>
<div style="left:22px;top:142px;width:999px;height:1px;background:#2e2e2e;"></div>
<div style="left:22px;top:154px;width:999px;height:1px;background:#2e2e2e;"></div>
<div style="left:22px;top:166px;width:999px;height:1px;background:#2e2e2e;"></div>
<div style="left:22px;top:178px;width:999px;height:1px;background:#2e2e2e;"></div>
<div style="left:22px;top:189px;width:999px;height:1px;background:#2e2e2e;"></div>
<div style="left:22px;top:201px;width:999px;height:1px;background:#2e2e2e;"></div>
<div style="left:22px;top:213px;width:999px;height:1px;background:#2e2e2e;"></div>
<div style="left:22px;top:225px;width:999px;height:1px;background:#2e2e2e;"></div>
<div style="left:22px;top:237px;width:999px;height:1px;background:#2e2e2e;"></div>
<div style="left:22px;top:249px;width:999px;height:1px;background:#2e2e2e;"></div>
<div style="left:22px;top:260px;width:999px;height:1px;background:#2e2e2e;"></div>
<div style="left:22px;top:272px;width:999px;height:1px;background:#2e2e2e;"></div>
<div style="left:22px;top:284px;width:999px;height:1px;background:#2e2e2e;"></div>
<div style="left:22px;top:296px;width:999px;height:1px;background:#2e2e2e;"></div>
<div style="left:22px;top:308px;width:999px;height:1px;background:#2e2e2e;"></div>
<div style="left:22px;top:320px;width:999px;height:1px;background:#2e2e2e;"></div>
<div style="left:22px;top:331px;width:999px;height:1px;background:#2e2e2e;"></div>
<div style="left:22px;top:343px;width:999px;height:1px;background:#2e2e2e;"></div>
<div style="left:22px;top:355px;width:999px;height:1px;background:#2e2e2e;"></div>
<div style="left:22px;top:367px;width:999px;height:1px;background:#2e2e2e;"></div>
<div style="left:22px;top:379px;width:999px;height:1px;background:#2e2e2e;"></div>
<div style="left:22px;top:391px;width:999px;height:1px;background:#2e2e2e;"></div>
<div style="left:22px;top:402px;width:999px;height:1px;background:#2e2e2e;"></div>
<div style="left:22px;top:414px;width:999px;height:1px;background:#2e2e2e;"></div>
<div style="left:22px;top:426px;width:999px;height:1px;background:#2e2e2e;"></div>
<div style="left:22px;top:438px;width:999px;height:1px;background:#2e2e2e;"></div>
<div style="left:22px;top:450px;width:999px;height:1px;background:#2e2e2e;"></div>
<div style="left:22px;top:462px;width:999px;height:1px;background:#2e2e2e;"></div>
<div style="left:22px;top:473px;width:999px;height:1px;background:#2e2e2e;"></div>
<div style="left:22px;top:485px;width:999px;height:1px;background:#2e2e2e;"></div>
<div style="left:22px;top:497px;width:999px;height:1px;background:#2e2e2e;"></div>
<div style="left:22px;top:509px;width:999px;height:1px;background:#2e2e2e;"></div>
<div style="left:22px;top:521px;width:999px;height:1px;background:#2e2e2e;"></div>
<div style="left:22px;top:533px;width:999px;height:1px;background:#2e2e2e;"></div>
<div style="left:22px;top:544px;width:999px;height:1px;background:#2e2e2e;"></div>
<div style="left:22px;top:556px;width:999px;height:1px;background:#2e2e2e;"></div>
<div style="left:22px;top:568px;width:999px;height:1px;background:#2e2e2e;"></div>
<div style="left:22px;top:580px;width:999px;height:1px;background:#2e2e2e;"></div>
<div style="left:22px;top:592px;width:999px;height:1px;background:#2e2e2e;"></div>
<div style="left:22px;top:604px;width:999px;height:1px;background:#2e2e2e;"></div>
<div style="left:22px;top:615px;width:999px;height:1px;background:#2e2e2e;"></div>
<div style="left:22px;top:627px;width:999px;height:1px;background:#2e2e2e;"></div>
<div style="left:985px;top:0px;width:1px;height:633px;background:#000;"></div>
<div style="left:1020px;top:0px;width:2px;height:633px;background:#000;"></div>
<div style="left:22px;top:0px;width:1px;height:12px;background:#46561c;"></div>
<div style="left:22px;top:12px;width:1px;height:60px;background:#efefef;"></div>
<div style="left:22px;top:72px;width:1px;height:561px;background:#e8821c;"></div>
<div style="left:172px;top:72px;width:1px;height:561px;background:#ec9618;"></div>
<div style="left:173px;top:72px;width:1px;height:561px;background:#dc5626;"></div>
<div style="left:174px;top:72px;width:1px;height:561px;background:#eb9a88;"></div>
<div style="left:22px;top:214px;width:1px;height:11px;background:#b0b000;"></div>
<div style="left:172px;top:214px;width:1px;height:11px;background:#ffff00;"></div>
<div style="left:173px;top:214px;width:1px;height:11px;background:#4a5210;"></div>
<div style="left:174px;top:214px;width:1px;height:11px;background:#fff;"></div>
<div class="rh" style="left:0px;top:0px;width:22px;height:12px;line-height:12px;">1</div>
<div style="left:0px;top:12px;width:22px;height:1px;background:#c6c6c6;"></div>
<div class="rh" style="left:0px;top:13px;width:22px;height:13px;line-height:17px;">2</div>
<div style="left:0px;top:26px;width:22px;height:1px;background:#c6c6c6;"></div>
<div class="rh" style="left:0px;top:27px;width:22px;height:14px;line-height:17px;">3</div>
<div style="left:0px;top:41px;width:22px;height:1px;background:#c6c6c6;"></div>
<div class="rh" style="left:0px;top:42px;width:22px;height:14px;line-height:17px;">4</div>
<div style="left:0px;top:56px;width:22px;height:1px;background:#c6c6c6;"></div>
<div class="rh" style="left:0px;top:57px;width:22px;height:14px;line-height:17px;">5</div>
<div style="left:0px;top:71px;width:22px;height:1px;background:#c6c6c6;"></div>
<div class="rh" style="left:0px;top:72px;width:22px;height:11px;">52</div>
<div class="rh" style="left:0px;top:84px;width:22px;height:11px;">53</div>
<div style="left:0px;top:83px;width:22px;height:1px;background:#cdcdcd;"></div>
<div class="rh" style="left:0px;top:96px;width:22px;height:11px;">54</div>
<div style="left:0px;top:95px;width:22px;height:1px;background:#cdcdcd;"></div>
<div class="rh" style="left:0px;top:108px;width:22px;height:10px;">55</div>
<div style="left:0px;top:107px;width:22px;height:1px;background:#cdcdcd;"></div>
<div class="rh" style="left:0px;top:119px;width:22px;height:11px;">56</div>
<div style="left:0px;top:118px;width:22px;height:1px;background:#cdcdcd;"></div>
<div class="rh" style="left:0px;top:131px;width:22px;height:11px;">57</div>
<div style="left:0px;top:130px;width:22px;height:1px;background:#cdcdcd;"></div>
<div class="rh" style="left:0px;top:143px;width:22px;height:11px;">58</div>
<div style="left:0px;top:142px;width:22px;height:1px;background:#cdcdcd;"></div>
<div class="rh" style="left:0px;top:155px;width:22px;height:11px;">59</div>
<div style="left:0px;top:154px;width:22px;height:1px;background:#cdcdcd;"></div>
<div class="rh" style="left:0px;top:167px;width:22px;height:11px;">60</div>
<div style="left:0px;top:166px;width:22px;height:1px;background:#cdcdcd;"></div>
<div class="rh" style="left:0px;top:179px;width:22px;height:10px;">61</div>
<div style="left:0px;top:178px;width:22px;height:1px;background:#cdcdcd;"></div>
<div class="rh" style="left:0px;top:190px;width:22px;height:11px;">62</div>
<div style="left:0px;top:189px;width:22px;height:1px;background:#cdcdcd;"></div>
<div class="rh" style="left:0px;top:202px;width:22px;height:11px;">63</div>
<div style="left:0px;top:201px;width:22px;height:1px;background:#cdcdcd;"></div>
<div class="rh" style="left:0px;top:214px;width:22px;height:11px;">64</div>
<div style="left:0px;top:213px;width:22px;height:1px;background:#cdcdcd;"></div>
<div class="rh" style="left:0px;top:226px;width:22px;height:11px;">65</div>
<div style="left:0px;top:225px;width:22px;height:1px;background:#cdcdcd;"></div>
<div class="rh" style="left:0px;top:238px;width:22px;height:11px;">66</div>
<div style="left:0px;top:237px;width:22px;height:1px;background:#cdcdcd;"></div>
<div class="rh" style="left:0px;top:250px;width:22px;height:10px;">67</div>
<div style="left:0px;top:249px;width:22px;height:1px;background:#cdcdcd;"></div>
<div class="rh" style="left:0px;top:261px;width:22px;height:11px;">68</div>
<div style="left:0px;top:260px;width:22px;height:1px;background:#cdcdcd;"></div>
<div class="rh" style="left:0px;top:273px;width:22px;height:11px;">69</div>
<div style="left:0px;top:272px;width:22px;height:1px;background:#cdcdcd;"></div>
<div class="rh" style="left:0px;top:285px;width:22px;height:11px;">70</div>
<div style="left:0px;top:284px;width:22px;height:1px;background:#cdcdcd;"></div>
<div class="rh" style="left:0px;top:297px;width:22px;height:11px;">71</div>
<div style="left:0px;top:296px;width:22px;height:1px;background:#cdcdcd;"></div>
<div class="rh" style="left:0px;top:309px;width:22px;height:11px;">72</div>
<div style="left:0px;top:308px;width:22px;height:1px;background:#cdcdcd;"></div>
<div class="rh" style="left:0px;top:321px;width:22px;height:10px;">73</div>
<div style="left:0px;top:320px;width:22px;height:1px;background:#cdcdcd;"></div>
<div class="rh" style="left:0px;top:332px;width:22px;height:11px;">74</div>
<div style="left:0px;top:331px;width:22px;height:1px;background:#cdcdcd;"></div>
<div class="rh" style="left:0px;top:344px;width:22px;height:11px;">75</div>
<div style="left:0px;top:343px;width:22px;height:1px;background:#cdcdcd;"></div>
<div class="rh" style="left:0px;top:356px;width:22px;height:11px;">76</div>
<div style="left:0px;top:355px;width:22px;height:1px;background:#cdcdcd;"></div>
<div class="rh" style="left:0px;top:368px;width:22px;height:11px;">77</div>
<div style="left:0px;top:367px;width:22px;height:1px;background:#cdcdcd;"></div>
<div class="rh" style="left:0px;top:380px;width:22px;height:11px;">78</div>
<div style="left:0px;top:379px;width:22px;height:1px;background:#cdcdcd;"></div>
<div class="rh" style="left:0px;top:392px;width:22px;height:10px;">79</div>
<div style="left:0px;top:391px;width:22px;height:1px;background:#cdcdcd;"></div>
<div class="rh" style="left:0px;top:403px;width:22px;height:11px;">80</div>
<div style="left:0px;top:402px;width:22px;height:1px;background:#cdcdcd;"></div>
<div class="rh" style="left:0px;top:415px;width:22px;height:11px;">81</div>
<div style="left:0px;top:414px;width:22px;height:1px;background:#cdcdcd;"></div>
<div class="rh" style="left:0px;top:427px;width:22px;height:11px;">82</div>
<div style="left:0px;top:426px;width:22px;height:1px;background:#cdcdcd;"></div>
<div class="rh" style="left:0px;top:439px;width:22px;height:11px;">83</div>
<div style="left:0px;top:438px;width:22px;height:1px;background:#cdcdcd;"></div>
<div class="rh" style="left:0px;top:451px;width:22px;height:11px;">84</div>
<div style="left:0px;top:450px;width:22px;height:1px;background:#cdcdcd;"></div>
<div class="rh" style="left:0px;top:463px;width:22px;height:10px;">85</div>
<div style="left:0px;top:462px;width:22px;height:1px;background:#cdcdcd;"></div>
<div class="rh" style="left:0px;top:474px;width:22px;height:11px;">86</div>
<div style="left:0px;top:473px;width:22px;height:1px;background:#cdcdcd;"></div>
<div class="rh" style="left:0px;top:486px;width:22px;height:11px;">87</div>
<div style="left:0px;top:485px;width:22px;height:1px;background:#cdcdcd;"></div>
<div class="rh" style="left:0px;top:498px;width:22px;height:11px;">88</div>
<div style="left:0px;top:497px;width:22px;height:1px;background:#cdcdcd;"></div>
<div class="rh" style="left:0px;top:510px;width:22px;height:11px;">89</div>
<div style="left:0px;top:509px;width:22px;height:1px;background:#cdcdcd;"></div>
<div class="rh" style="left:0px;top:522px;width:22px;height:11px;">90</div>
<div style="left:0px;top:521px;width:22px;height:1px;background:#cdcdcd;"></div>
<div class="rh" style="left:0px;top:534px;width:22px;height:10px;">91</div>
<div style="left:0px;top:533px;width:22px;height:1px;background:#cdcdcd;"></div>
<div class="rh" style="left:0px;top:545px;width:22px;height:11px;">92</div>
<div style="left:0px;top:544px;width:22px;height:1px;background:#cdcdcd;"></div>
<div class="rh" style="left:0px;top:557px;width:22px;height:11px;">93</div>
<div style="left:0px;top:556px;width:22px;height:1px;background:#cdcdcd;"></div>
<div class="rh" style="left:0px;top:569px;width:22px;height:11px;">94</div>
<div style="left:0px;top:568px;width:22px;height:1px;background:#cdcdcd;"></div>
<div class="rh" style="left:0px;top:581px;width:22px;height:11px;">95</div>
<div style="left:0px;top:580px;width:22px;height:1px;background:#cdcdcd;"></div>
<div class="rh" style="left:0px;top:593px;width:22px;height:11px;">96</div>
<div style="left:0px;top:592px;width:22px;height:1px;background:#cdcdcd;"></div>
<div class="rh" style="left:0px;top:605px;width:22px;height:10px;">97</div>
<div style="left:0px;top:604px;width:22px;height:1px;background:#cdcdcd;"></div>
<div class="rh" style="left:0px;top:616px;width:22px;height:11px;">98</div>
<div style="left:0px;top:615px;width:22px;height:1px;background:#cdcdcd;"></div>
<div class="rh" style="left:0px;top:628px;width:22px;height:5px;">99</div>
<div style="left:0px;top:627px;width:22px;height:1px;background:#cdcdcd;"></div>
</div>
<div id="tabs" style="left:0;top:633px;width:1024px;height:21px;background:#e9e9e9;border-top:1px solid #d0d0d0"></div>
<div class="tab" style="left:80px;top:633px;width:46px;height:21px;">2408</div>
<div class="tab" style="left:127px;top:633px;width:46px;height:21px;">2409</div>
<div class="tab" style="left:174px;top:633px;width:46px;height:21px;">2410</div>
<div class="tab" style="left:221px;top:633px;width:47px;height:21px;">2411</div>
<div class="tab" style="left:269px;top:633px;width:46px;height:21px;">2412</div>
<div class="tab" style="left:316px;top:633px;width:46px;height:21px;">2501</div>
<div class="tab" style="left:363px;top:633px;width:46px;height:21px;">2502</div>
<div class="tab act" style="left:410px;top:633px;width:46px;height:21px;background:#fff;">2503</div>
<div style="left:409px;top:651px;width:48px;height:1px;background:#217346;"></div>
<div style="left:409px;top:652px;width:48px;height:1px;background:#9cc7ae;"></div>
<div style="left:409px;top:633px;width:1px;height:18px;background:#bdbdbd;"></div>
<div style="left:456px;top:633px;width:1px;height:18px;background:#bdbdbd;"></div>
<div class="tab" style="left:457px;top:633px;width:46px;height:21px;">2504</div>
<div style="left:79px;top:637px;width:1px;height:14px;background:#ababab;"></div>
<div style="left:126px;top:637px;width:1px;height:14px;background:#ababab;"></div>
<div style="left:173px;top:637px;width:1px;height:14px;background:#ababab;"></div>
<div style="left:220px;top:637px;width:1px;height:14px;background:#ababab;"></div>
<div style="left:268px;top:637px;width:1px;height:14px;background:#ababab;"></div>
<div style="left:315px;top:637px;width:1px;height:14px;background:#ababab;"></div>
<div style="left:362px;top:637px;width:1px;height:14px;background:#ababab;"></div>
<div style="left:503px;top:637px;width:1px;height:14px;background:#ababab;"></div>
<svg style="position:absolute;left:0;top:633px" width="80" height="21"><path d="M24.8 7.5 L21.3 10.3 L24.8 13.1Z" fill="#217346"/><path d="M44 7.5 L47.4 10.3 L44 13.1Z" fill="#c2c2c2"/><circle cx="65.3" cy="12.8" r="0.9" fill="#217346"/><circle cx="68.3" cy="12.8" r="0.9" fill="#217346"/><circle cx="71.3" cy="12.8" r="0.9" fill="#217346"/></svg>
<svg style="position:absolute;left:528px;top:635px" width="16" height="16"><circle cx="8" cy="8" r="5.6" fill="none" stroke="#666" stroke-width="1"/><path d="M5 8H11M8 5V11" stroke="#666" stroke-width="1.2"/></svg>
<div style="left:921px;top:638px;width:103px;height:12px;background:#fff;"></div>
<div style="left:921px;top:638px;width:103px;height:1px;background:#c8c8c8;"></div>
<div style="left:921px;top:649px;width:103px;height:1px;background:#c8c8c8;"></div>
<div style="left:921px;top:638px;width:1px;height:12px;background:#c8c8c8;"></div>
<div style="left:932px;top:638px;width:1px;height:12px;background:#c8c8c8;"></div>
<svg style="position:absolute;left:922px;top:639px" width="10" height="10"><path d="M6.5 2 L3 5 L6.5 8Z" fill="#333"/></svg>
<div style="left:908px;top:640px;width:1px;height:1px;background:#999;"></div>
<div style="left:908px;top:644px;width:1px;height:1px;background:#999;"></div>
<div style="left:908px;top:648px;width:1px;height:1px;background:#999;"></div>
</body></html>
